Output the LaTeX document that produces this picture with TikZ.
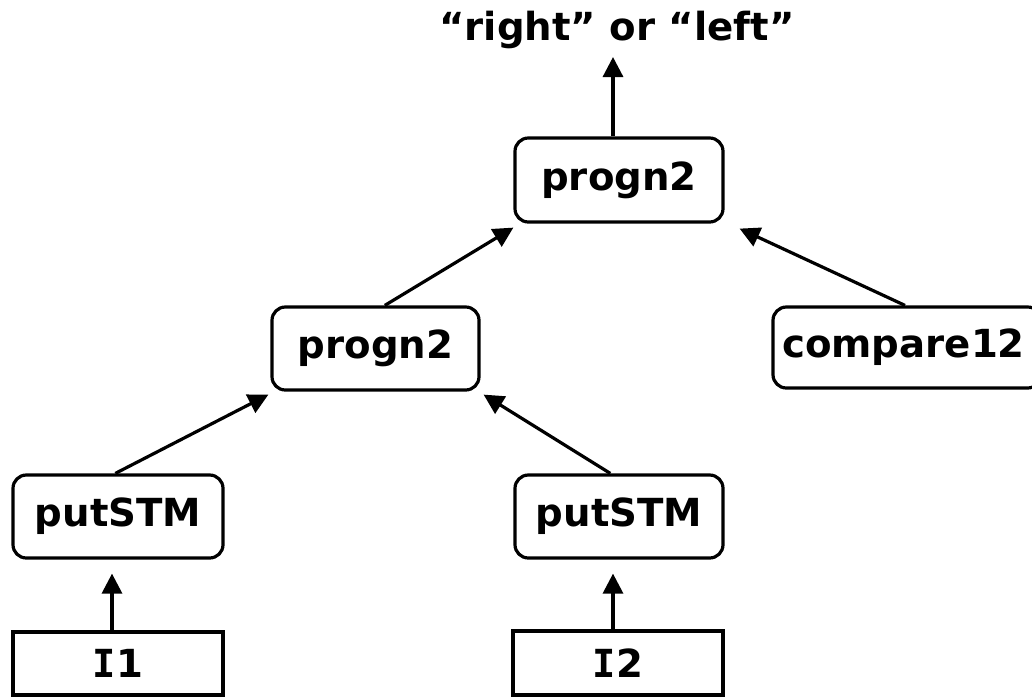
\documentclass[tikz,border=0pt]{standalone}
\usepackage{fontspec}
\setmainfont{DejaVu Sans}
\newfontfamily\slabfont{DejaVu Sans Mono}
\usetikzlibrary{arrows.meta}
\begin{document}
\begin{tikzpicture}[x=0.75pt,y=-0.75pt,
  lbl/.style={font=\bfseries\fontsize{29}{34}\selectfont, inner sep=0pt},
  fnbox/.style={lbl, draw, line width=2.4pt, rounded corners=10pt},
  termbox/.style={lbl, draw, line width=2.4pt},
  arr/.style={line width=2.4pt, -{Triangle[length=15pt,width=15pt]}}]
  \useasboundingbox (0,0) rectangle (1032,697);
  \clip (0,0) rectangle (1032,697);

  % result label
  \node[lbl] (out) at (617,30) {“right” or “left”};

  % function nodes
  \node[fnbox, minimum width=208*0.75pt, minimum height=84*0.75pt] (p1) at (619,180) {progn2};
  \node[fnbox, minimum width=207*0.75pt, minimum height=83*0.75pt] (p2) at (375.5,348.5) {progn2};
  \node[fnbox, minimum width=268*0.75pt, minimum height=81*0.75pt, text width=255*0.75pt, align=left] (cmp) at (907,347.5) {\hspace*{2pt}compare12};
  \node[fnbox, minimum width=210*0.75pt, minimum height=83*0.75pt] (s1) at (118,516.5) {putSTM};
  \node[fnbox, minimum width=208*0.75pt, minimum height=83*0.75pt] (s2) at (619,516.5) {putSTM};

  % terminal nodes
  \node[termbox, minimum width=210*0.75pt, minimum height=63*0.75pt] (i1) at (118,663.5) {{\slabfont I}1};
  \node[termbox, minimum width=210*0.75pt, minimum height=64*0.75pt] (i2) at (618,663) {{\slabfont I}2};

  % connectors
  \coordinate (outtip) at (613,57);
  \draw[arr] ([xshift=-4.5pt]p1.north) -- (outtip);
  \draw[arr] ([xshift=-4.5pt]i1.north) -- ([shift={(-6,14)}]s1.south);
  \draw[arr] ([xshift=-3.75pt]i2.north) -- ([shift={(-6,14)}]s2.south);
  \draw[arr] ([xshift=-2pt]s1.north) -- ([shift={(-2,3)}]p2.south west);
  \draw[arr] ([xshift=-6.5pt]s2.north) -- ([shift={(3,3)}]p2.south east);
  \draw[arr] ([xshift=7pt]p2.north) -- ([shift={(0,4)}]p1.south west);
  \draw[arr] ([xshift=-1.5pt]cmp.north) -- ([shift={(15,5)}]p1.south east);
\end{tikzpicture}
\end{document}
